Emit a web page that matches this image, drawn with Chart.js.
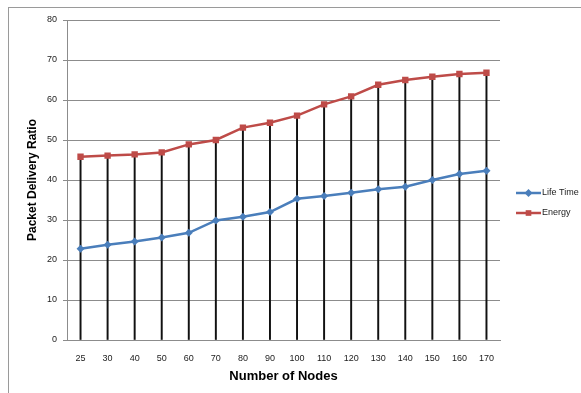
<!DOCTYPE html>
<html lang="en">
<head>
<meta charset="utf-8">
<title>Packet Delivery Ratio</title>
<script src="https://cdn.jsdelivr.net/npm/chart.js"></script>
<style>
  html, body { margin: 0; padding: 0; background: #fff; }
  #wrap { width: 581px; height: 393px; }
</style>
</head>
<body>
<div id="wrap"><canvas id="myChart" width="581" height="393"></canvas></div>
<script>
// data
const nodes = ['25','30','40','50','60','70','80','90','100','110','120','130','140','150','160','170'];
const lifeTime = [22.8, 23.8, 24.6, 25.6, 26.8, 29.9, 30.8, 32.0, 35.3, 36.0, 36.8, 37.7, 38.3, 40.0, 41.5, 42.3];
const energy = [45.8, 46.1, 46.4, 46.9, 48.9, 50.0, 53.1, 54.3, 56.1, 58.9, 60.9, 63.8, 65.0, 65.8, 66.5, 66.8];
const yTicks = [0, 10, 20, 30, 40, 50, 60, 70, 80];

const fontFam = "'Liberation Sans', Arial, sans-serif";
const blue = '#4A7EBB';
const red = '#BE4B48';

// outer frame like the excel chart area
const framePlugin = {
  id: 'frame',
  beforeDraw(chart) {
    const c = chart.ctx;
    c.save();
    c.strokeStyle = '#9a9a9a';
    c.lineWidth = 1;
    c.strokeRect(8.5, 7.5, 700, 500);
    c.restore();
  }
};

// legend: line + marker + label, on the right
const legendPlugin = {
  id: 'sideLegend',
  afterDraw(chart) {
    const c = chart.ctx;
    const items = [
      { text: 'Life Time', color: blue, style: 'rectRot', y: 193 },
      { text: 'Energy', color: red, style: 'rect', y: 213 }
    ];
    c.save();
    items.forEach(it => {
      c.strokeStyle = it.color;
      c.lineWidth = 2.5;
      c.beginPath();
      c.moveTo(516, it.y);
      c.lineTo(541, it.y);
      c.stroke();
      c.fillStyle = it.color;
      Chart.helpers.drawPoint(c, { pointStyle: it.style, radius: 4, borderWidth: 0 }, 528.5, it.y);
      c.fillStyle = '#222';
      c.font = '9px ' + fontFam;
      c.textBaseline = 'middle';
      c.fillText(it.text, 542, it.y);
    });
    c.restore();
  }
};

const ctx = document.getElementById('myChart').getContext('2d');
new Chart(ctx, {
  data: {
    labels: nodes,
    datasets: [
      {
        type: 'line',
        label: 'Life Time',
        data: lifeTime,
        borderColor: blue,
        backgroundColor: blue,
        borderWidth: 2.5,
        pointStyle: 'rectRot',
        pointRadius: 4,
        pointBorderWidth: 0,
        tension: 0,
        order: 1
      },
      {
        type: 'line',
        label: 'Energy',
        data: energy,
        borderColor: red,
        backgroundColor: red,
        borderWidth: 2.5,
        pointStyle: 'rect',
        pointRadius: 4.5,
        pointBorderWidth: 0,
        tension: 0,
        order: 2
      },
      {
        // drop lines from the highest series down to the axis
        type: 'bar',
        label: 'drop',
        data: energy,
        backgroundColor: '#111',
        barThickness: 1.3,
        order: 3
      }
    ]
  },
  options: {
    responsive: false,
    animation: false,
    layout: { padding: { top: 20, right: 81, bottom: 0, left: 0 } },
    plugins: {
      legend: { display: false },
      tooltip: { enabled: false }
    },
    scales: {
      x: {
        type: 'category',
        offset: true,
        grid: { display: false },
        border: { display: true, color: '#8c8c8c', width: 1 },
        ticks: { color: '#222', font: { family: fontFam, size: 9 }, padding: 5, maxRotation: 0 },
        title: {
          display: true,
          text: 'Number of Nodes',
          color: '#000',
          font: { family: fontFam, size: 13, weight: 'bold' },
          padding: { top: 0, bottom: 9 }
        },
        afterFit(scale) { scale.height = 53; }
      },
      y: {
        min: 0,
        max: 80,
        afterBuildTicks(scale) { scale.ticks = yTicks.map(v => ({ value: v })); },
        grid: { color: '#8c8c8c', lineWidth: 1, drawTicks: true, tickLength: 4 },
        border: { display: true, color: '#8c8c8c', width: 1 },
        ticks: { color: '#222', font: { family: fontFam, size: 9 }, padding: 6 },
        title: {
          display: true,
          text: 'Packet Delivery Ratio',
          color: '#000',
          font: { family: fontFam, size: 12, weight: 'bold' },
          padding: { top: 25, bottom: 0 }
        },
        afterFit(scale) { scale.width = 67; }
      }
    }
  },
  plugins: [framePlugin, legendPlugin]
});
</script>
</body>
</html>
